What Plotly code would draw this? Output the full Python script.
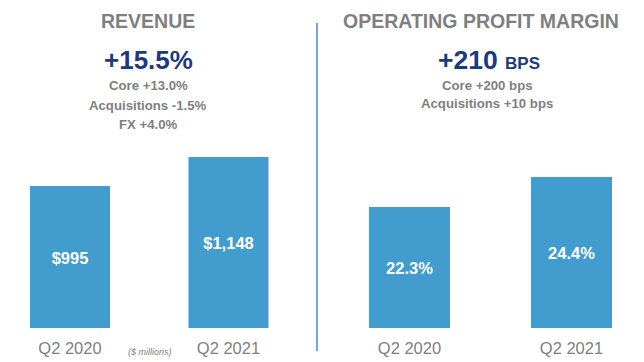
import plotly.graph_objects as go

# ---- data ----
periods = ["Q2 2020", "Q2 2021"]
revenue = [995, 1148]
revenue_labels = ["$995", "$1,148"]
margin = [22.3, 24.4]
margin_labels = ["22.3%", "24.4%"]

rev_title = "REVENUE"
rev_change = "+15.5%"
rev_details = ["Core +13.0%", "Acquisitions -1.5%", "FX +4.0%"]
opm_title = "OPERATING PROFIT MARGIN"
opm_change = "+210"
opm_unit = "BPS"
opm_details = ["Core +200 bps", "Acquisitions +10 bps"]
units_note = "($ millions)"

FONT = "Liberation Sans, Arial, sans-serif"
BAR = "#429CCD"
GRAY = "#7F7F7F"
NAVY = "#1F3A7A"
W, H = 644, 362

REV_BASE, REV_TOP = 245.8, 1184.6
OPM_BASE, OPM_TOP = 13.83, 26.29

def px(x):
    return x / W

def py(y):
    return 1 - y / H

fig = go.Figure()
# bars
fig.add_trace(go.Bar(
    x=[0, 1], y=revenue, width=[0.505, 0.505],
    marker=dict(color=BAR, line=dict(width=0)),
    xaxis="x", yaxis="y", hoverinfo="skip", showlegend=False,
))
fig.add_trace(go.Bar(
    x=[0, 1], y=margin, width=[0.5, 0.5],
    marker=dict(color=BAR, line=dict(width=0)),
    xaxis="x2", yaxis="y2", hoverinfo="skip", showlegend=False,
))
# value labels centred in the visible part of each bar
fig.add_trace(go.Scatter(
    x=[0, 1], y=[(REV_BASE + v) / 2 - 15 for v in revenue], text=revenue_labels,
    mode="text", textposition="middle center",
    textfont=dict(family=FONT, size=16.5, color="white", weight="bold"),
    xaxis="x", yaxis="y", hoverinfo="skip", showlegend=False,
))
fig.add_trace(go.Scatter(
    x=[0, 1], y=[(OPM_BASE + v) / 2 - 0.2 for v in margin], text=margin_labels,
    mode="text", textposition="middle center",
    textfont=dict(family=FONT, size=16.5, color="white", weight="bold"),
    xaxis="x2", yaxis="y2", hoverinfo="skip", showlegend=False,
))

ybot = py(328)
ytop = py(150)
xaxis_common = dict(tickmode="array", tickvals=[0, 1], ticktext=periods,
                    showgrid=False, zeroline=False, showline=False, ticks="",
                    automargin=False, ticklabelstandoff=8,
                    tickfont=dict(family=FONT, size=16.5, color=GRAY))
fig.update_layout(
    width=W, height=H, margin=dict(l=0, r=0, t=0, b=0, autoexpand=False),
    paper_bgcolor="white", plot_bgcolor="white",
    xaxis=dict(domain=[0, px(316)], range=[-0.4416, 1.552], anchor="y", **xaxis_common),
    xaxis2=dict(domain=[px(318), 1], range=[-0.5648, 1.4475], anchor="y2", **xaxis_common),
    yaxis=dict(domain=[ybot, ytop], range=[REV_BASE, REV_TOP], visible=False, anchor="x", automargin=False),
    yaxis2=dict(domain=[ybot, ytop], range=[OPM_BASE, OPM_TOP], visible=False, anchor="x2", automargin=False),
)

ann = []
def add(text, x, y, size, color, bold=True, italic=False):
    ann.append(dict(text=text, x=px(x), y=py(y), xref="paper", yref="paper",
                    xanchor="center", yanchor="middle", showarrow=False,
                    font=dict(family=FONT, size=size, color=color,
                              weight="bold" if bold else "normal",
                              style="italic" if italic else "normal")))

add(rev_title, 148, 21, 19.5, GRAY)
add(opm_title, 481, 21, 19.5, GRAY)
add(rev_change, 148, 60, 26, NAVY)
add(f"{opm_change} <span style='font-size:17px'>{opm_unit}</span>", 489, 60, 26.5, NAVY)
for i, t in enumerate(rev_details):
    add(t, 148, 86 + i * 19, 13.2, GRAY)
for i, t in enumerate(opm_details):
    add(t, 487, 86 + i * 18, 13.2, GRAY)
add(units_note, 150, 352, 9, GRAY, bold=False, italic=True)

fig.update_layout(annotations=ann)
fig.add_shape(type="line", xref="paper", yref="paper",
              x0=px(317), x1=px(317), y0=py(23), y1=py(351),
              line=dict(color="#7BA3D6", width=2))

fig.write_html("out.html", config={"displayModeBar": False},
               post_script="document.body.style.margin='0px';document.body.style.padding='0px';")
